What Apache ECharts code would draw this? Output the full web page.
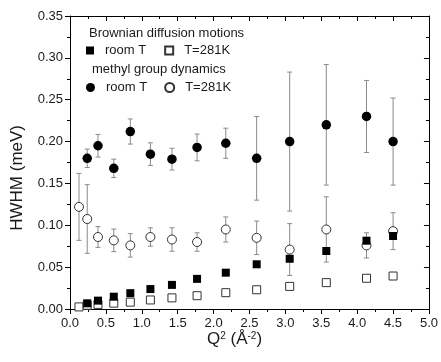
<!DOCTYPE html>
<html>
<head>
<meta charset="utf-8">
<script src="https://cdn.jsdelivr.net/npm/echarts@6/dist/echarts.min.js"></script>
<style>
  html, body { margin: 0; padding: 0; background: #fff; }
  #chart { width: 441px; height: 362px; }
</style>
</head>
<body>
<div id="chart"></div>
<script>
// Q^2 positions (A^-2)
const qAll = [0.125, 0.24, 0.39, 0.61, 0.84, 1.12, 1.42, 1.77, 2.17, 2.60, 3.06, 3.57, 4.13, 4.50];
const qRoom = [0.24, 0.39, 0.61, 0.84, 1.12, 1.42, 1.77, 2.17, 2.60, 3.06, 3.57, 4.13, 4.50];

// Brownian diffusion motions, HWHM (meV)
const brownRoom = [0.0068, 0.0100, 0.0147, 0.0189, 0.0238, 0.0288, 0.0360, 0.0434, 0.0534, 0.0600, 0.0693, 0.0816, 0.0872];
const brownCold = [0.0025, 0.0045, 0.0055, 0.0070, 0.0082, 0.0108, 0.0133, 0.0159, 0.0195, 0.0230, 0.0270, 0.0315, 0.0367, 0.0394];

// methyl group dynamics, HWHM (meV) and error
const methylRoom = [0.180, 0.195, 0.168, 0.212, 0.185, 0.179, 0.193, 0.198, 0.180, 0.200, 0.220, 0.230, 0.200];
const methylRoomErr = [0.011, 0.0135, 0.011, 0.015, 0.0135, 0.013, 0.016, 0.018, 0.050, 0.083, 0.072, 0.043, 0.052];
const methylCold = [0.122, 0.1075, 0.086, 0.082, 0.076, 0.086, 0.083, 0.080, 0.095, 0.085, 0.071, 0.095, 0.076, 0.093];
const methylColdErr = [0.040, 0.041, 0.0124, 0.0135, 0.014, 0.011, 0.014, 0.011, 0.015, 0.020, 0.031, 0.039, 0.015, 0.022];

const xTicks = { min: 0, max: 5, interval: 0.5 };
const yTicks = { min: 0, max: 0.35, interval: 0.05 };

const FONT = 'Liberation Sans, Arial, sans-serif';
const TXT = '#1a1a1a';

const pts = (xs, ys) => xs.map((x, i) => [x, ys[i]]);
const bars = (xs, ys, es) => xs.map((x, i) => [x, ys[i] - es[i], ys[i] + es[i]]);

// error bar with small caps
function renderErr(params, api) {
  const x = api.value(0);
  const lo = api.coord([x, api.value(1)]);
  const hi = api.coord([x, api.value(2)]);
  const w = 2.5;
  const st = { stroke: '#8a8a8a', lineWidth: 1 };
  return {
    type: 'group',
    children: [
      { type: 'line', shape: { x1: lo[0], y1: lo[1], x2: hi[0], y2: hi[1] }, style: st },
      { type: 'line', shape: { x1: lo[0] - w, y1: lo[1], x2: lo[0] + w, y2: lo[1] }, style: st },
      { type: 'line', shape: { x1: hi[0] - w, y1: hi[1], x2: hi[0] + w, y2: hi[1] }, style: st }
    ]
  };
}

const names = {
  bRoom: 'room T', bCold: 'T=281K', mRoom: 'room T', mCold: 'T=281K'
};

const baseAxis = {
  axisLine: { show: true, onZero: false, lineStyle: { color: '#000', width: 1 } },
  splitLine: { show: false },
  minorTick: { show: true, splitNumber: 2, length: 3, lineStyle: { color: '#000' } },
  axisTick: { show: true, length: 5, lineStyle: { color: '#000' } }
};

const chart = echarts.init(document.getElementById('chart'));

chart.setOption({
  animation: false,
  backgroundColor: '#fff',
  textStyle: { fontFamily: FONT },
  grid: { left: 70, right: 11, top: 16, bottom: 53 },
  title: [
    { text: 'Brownian diffusion motions', left: 89, top: 27, padding: 0,
      textStyle: { fontSize: 13, fontWeight: 'normal', color: TXT, fontFamily: FONT } },
    { text: 'methyl group dynamics', left: 92, top: 63, padding: 0,
      textStyle: { fontSize: 13, fontWeight: 'normal', color: TXT, fontFamily: FONT } }
  ],
  legend: [
    { data: ['bRoom', 'bCold'], left: 86, top: 44, padding: 0, itemWidth: 8, itemHeight: 8, itemGap: 18,
      formatter: n => names[n], textStyle: { fontSize: 13, color: TXT, fontFamily: FONT, padding: [0, 0, 0, 6] } },
    { data: ['mRoom', 'mCold'], left: 86, top: 81, padding: 0, itemWidth: 9, itemHeight: 9, itemGap: 17,
      formatter: n => names[n], textStyle: { fontSize: 13, color: TXT, fontFamily: FONT, padding: [0, 0, 0, 6] } }
  ],
  xAxis: [
    Object.assign({}, baseAxis, {
      type: 'value', position: 'bottom', ...xTicks,
      axisLabel: { color: TXT, fontSize: 13, margin: 8, formatter: v => v.toFixed(1) }
    }),
    Object.assign({}, baseAxis, {
      type: 'value', position: 'top', ...xTicks,
      axisTick: { show: true, inside: true, length: 5, lineStyle: { color: '#000' } },
      minorTick: { show: true, splitNumber: 2, length: 3, lineStyle: { color: '#000' } },
      axisLabel: { show: false }
    })
  ],
  yAxis: [
    Object.assign({}, baseAxis, {
      type: 'value', position: 'left', ...yTicks,
      axisLabel: { color: TXT, fontSize: 13, margin: 7, formatter: v => v.toFixed(2) }
    }),
    Object.assign({}, baseAxis, {
      type: 'value', position: 'right', ...yTicks,
      axisTick: { show: true, inside: true, length: 5, lineStyle: { color: '#000' } },
      axisLabel: { show: false }
    })
  ],
  graphic: [
    { type: 'text', left: 9, top: 125, rotation: Math.PI / 2, originX: 0, originY: 0,
      style: { text: 'HWHM (meV)', fontSize: 17, fontFamily: FONT, fill: TXT } },
    { type: 'text', left: 207, top: 331,
      style: {
        text: 'Q{sup|2} ({a|Å}{sup|-2})', fontSize: 17, fontFamily: FONT, fill: TXT,
        rich: {
          sup: { fontSize: 10, verticalAlign: 'top', fontFamily: FONT, fill: TXT },
          a: { fontSize: 17, fontFamily: FONT, fill: TXT }
        }
      } }
  ],
  series: [
    { type: 'custom', name: 'errRoom', renderItem: renderErr, data: bars(qRoom, methylRoom, methylRoomErr), z: 1, silent: true },
    { type: 'custom', name: 'errCold', renderItem: renderErr, data: bars(qAll, methylCold, methylColdErr), z: 1, silent: true },
    { type: 'scatter', name: 'bCold', data: pts(qAll, brownCold), symbol: 'rect', symbolSize: 8, z: 3,
      itemStyle: { color: '#fff', borderColor: '#333', borderWidth: 1, opacity: 1 } },
    { type: 'scatter', name: 'bRoom', data: pts(qRoom, brownRoom), symbol: 'rect', symbolSize: 8, z: 4,
      itemStyle: { color: '#000', opacity: 1 } },
    { type: 'scatter', name: 'mCold', data: pts(qAll, methylCold), symbol: 'circle', symbolSize: 9, z: 3,
      itemStyle: { color: '#fff', borderColor: '#333', borderWidth: 1, opacity: 1 } },
    { type: 'scatter', name: 'mRoom', data: pts(qRoom, methylRoom), symbol: 'circle', symbolSize: 9.5, z: 4,
      itemStyle: { color: '#000', opacity: 1 } }
  ]
});
</script>
</body>
</html>
